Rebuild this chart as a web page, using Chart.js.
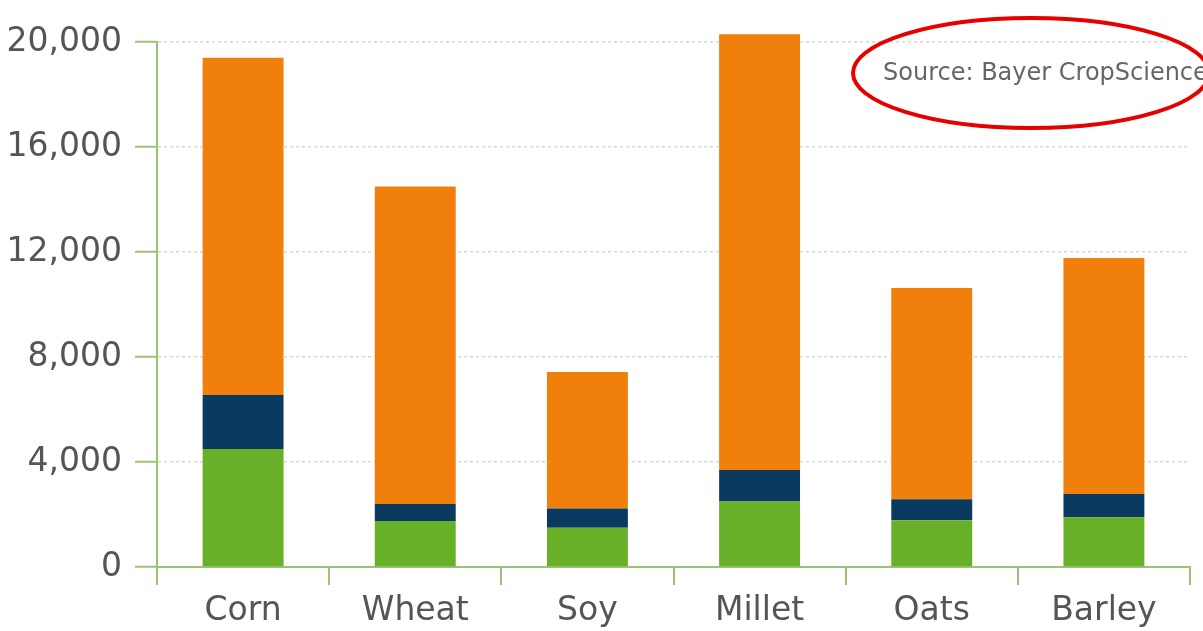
<!DOCTYPE html>
<html>
<head>
<meta charset="utf-8">
<script src="https://cdn.jsdelivr.net/npm/chart.js@4/dist/chart.umd.min.js"></script>
<style>
    html, body { margin: 0; padding: 0; background: #fff; overflow: hidden; }
    #chart { display: block; }
</style>
</head>
<body>
<canvas id="chart" width="1203" height="631"></canvas>
<script>
const crops = ['Corn', 'Wheat', 'Soy', 'Millet', 'Oats', 'Barley'];

// stacked segments, bottom to top
const greenPart = [4500, 1750, 1500, 2500, 1780, 1900];
const navyPart = [2050, 650, 730, 1200, 800, 880];
const orangePart = [12850, 12100, 5200, 16600, 8050, 8990];

const yTicks = [0, 4000, 8000, 12000, 16000, 20000];
const sourceNote = 'Source: Bayer CropScience';

const axisGreen = '#9cc375';
const labelGrey = '#555555';

// red ring with the source note, top right
const sourceMark = {
    id: 'sourceMark',
    afterDraw(chart) {
        const c = chart.ctx;
        c.save();
        c.filter = 'blur(0.6px)';
        c.fillStyle = '#666666';
        c.font = '24px "DejaVu Sans"';
        c.textBaseline = 'alphabetic';
        c.fillText(sourceNote, 883, 80);
        c.filter = 'none';
        c.strokeStyle = '#e60000';
        c.lineWidth = 4;
        c.beginPath();
        c.ellipse(1031, 73, 178, 55, 0, 0, Math.PI * 2);
        c.stroke();
        c.restore();
    }
};

const ctx = document.getElementById('chart');
const barChart = new Chart(ctx, {
    type: 'bar',
    data: {
        labels: crops,
        datasets: [
            { data: greenPart, backgroundColor: '#68b027' },
            { data: navyPart, backgroundColor: '#0b3a60' },
            { data: orangePart, backgroundColor: '#f07f0c' }
        ]
    },
    options: {
        responsive: false,
        animation: false,
        events: [],
        layout: { padding: { top: 42, right: 13, left: 0, bottom: 0 } },
        datasets: {
            // Millet tops out above 20,000, so let bars run past the plot edge
            bar: { barPercentage: 0.47, categoryPercentage: 1.0, clip: false }
        },
        plugins: {
            legend: { display: false },
            tooltip: { enabled: false }
        },
        scales: {
            x: {
                stacked: true,
                grid: {
                    offset: true,
                    drawOnChartArea: false,
                    color: axisGreen,
                    lineWidth: 2,
                    tickLength: 18
                },
                border: { color: axisGreen, width: 2 },
                ticks: {
                    color: labelGrey,
                    padding: 7,
                    font: { family: 'DejaVu Sans', size: 33 }
                },
                afterFit(scale) {
                    scale.height = 64;
                    scale.paddingLeft = 0;
                    scale.paddingRight = 0;
                }
            },
            y: {
                stacked: true,
                min: 0,
                max: 20000,
                afterBuildTicks(scale) {
                    scale.ticks = yTicks.map(v => ({ value: v }));
                },
                grid: {
                    color: '#d5dcc6',
                    lineWidth: 1.5,
                    tickLength: 22,
                    tickColor: axisGreen,
                    tickWidth: 2
                },
                border: { color: axisGreen, width: 2, dash: [3, 3] },
                ticks: {
                    color: labelGrey,
                    padding: 13,
                    font: { family: 'DejaVu Sans', size: 33 },
                    callback: v => v.toLocaleString('en-US')
                },
                afterFit(scale) {
                    scale.width = 157;
                    scale.paddingTop = 0;
                    scale.paddingBottom = 0;
                }
            }
        }
    },
    plugins: [sourceMark]
});
</script>
</body>
</html>
